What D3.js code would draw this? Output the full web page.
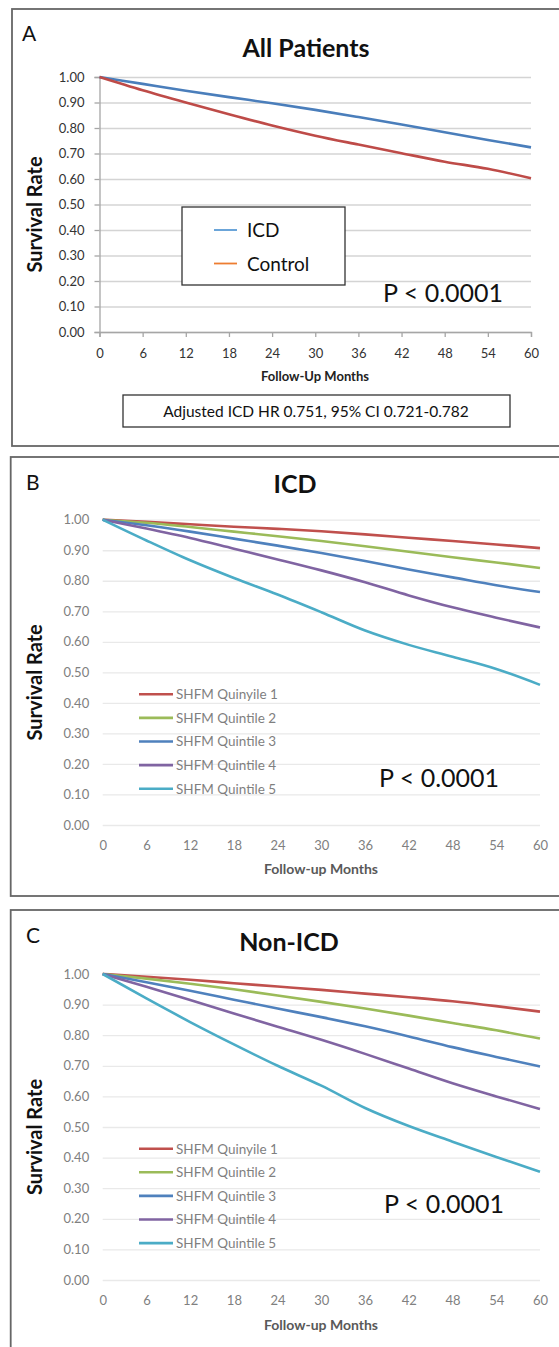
<!DOCTYPE html>
<html>
<head>
<meta charset="utf-8">
<script src="https://cdn.jsdelivr.net/npm/d3@7"></script>
<style>
  body { margin: 0; background: #fff; }
  svg text { font-family: Lato, "Open Sans", sans-serif; }
</style>
</head>
<body>
<div id="chart"></div>
<script>
// Survival curves at 6 month steps
var months = [0, 6, 12, 18, 24, 30, 36, 42, 48, 54, 60];
var yTicks = [0, 0.1, 0.2, 0.3, 0.4, 0.5, 0.6, 0.7, 0.8, 0.9, 1.0];

// A - All patients
var allIcd     = [1.00, 0.973, 0.946, 0.921, 0.897, 0.871, 0.843, 0.814, 0.783, 0.753, 0.724];
var allControl = [1.00, 0.948, 0.900, 0.854, 0.810, 0.770, 0.735, 0.701, 0.668, 0.640, 0.603];
var allNames = ["ICD", "Control"];

// B - ICD patients by SHFM quintile
var icdQ1 = [1.00, 0.993, 0.985, 0.977, 0.970, 0.962, 0.952, 0.941, 0.930, 0.919, 0.907];
var icdQ2 = [1.00, 0.990, 0.976, 0.961, 0.946, 0.930, 0.913, 0.895, 0.877, 0.860, 0.842];
var icdQ3 = [1.00, 0.982, 0.961, 0.938, 0.915, 0.891, 0.865, 0.837, 0.811, 0.785, 0.763];
var icdQ4 = [1.00, 0.971, 0.940, 0.905, 0.870, 0.834, 0.795, 0.752, 0.713, 0.679, 0.647];
var icdQ5 = [1.00, 0.932, 0.867, 0.809, 0.755, 0.697, 0.637, 0.590, 0.551, 0.511, 0.459];

// C - Non-ICD patients by SHFM quintile
var nonIcdQ1 = [1.00, 0.991, 0.981, 0.970, 0.959, 0.948, 0.936, 0.924, 0.911, 0.895, 0.877];
var nonIcdQ2 = [1.00, 0.985, 0.968, 0.950, 0.930, 0.909, 0.887, 0.864, 0.840, 0.816, 0.789];
var nonIcdQ3 = [1.00, 0.973, 0.945, 0.916, 0.887, 0.859, 0.829, 0.796, 0.761, 0.729, 0.698];
var nonIcdQ4 = [1.00, 0.958, 0.915, 0.871, 0.828, 0.785, 0.739, 0.691, 0.643, 0.600, 0.559];
var nonIcdQ5 = [1.00, 0.920, 0.843, 0.770, 0.700, 0.635, 0.562, 0.503, 0.452, 0.402, 0.354];

var quintileNames = ["SHFM Quinyile 1", "SHFM Quintile 2", "SHFM Quintile 3", "SHFM Quintile 4", "SHFM Quintile 5"];
var quintileColors = ["#c0504d", "#9bbb59", "#4f81bd", "#8064a2", "#4bacc6"];

var svg = d3.select("#chart").append("svg")
  .attr("width", 559)
  .attr("height", 1347);

var line = function(x, y) {
  return d3.line()
    .x((d, i) => x(months[i]))
    .y(d => y(d))
    .curve(d3.curveMonotoneX);
};

function drawPanel(p) {
  var g = svg.append("g");

  // panel frame (right side runs off the page like in the figure)
  g.append("rect")
    .attr("x", p.frame[0]).attr("y", p.frame[1])
    .attr("width", p.frame[2]).attr("height", p.frame[3])
    .attr("fill", "none")
    .attr("stroke", "#666")
    .attr("stroke-width", 1.8);

  var x = d3.scaleLinear().domain([0, 60]).range([p.left, p.right]);
  var y = d3.scaleLinear().domain([0, 1]).range([p.bottom, p.top]);

  // gridlines
  g.append("g")
    .attr("transform", `translate(${p.left},0)`)
    .call(d3.axisLeft(y).tickValues(yTicks).tickSize(-(p.right - p.left)).tickFormat(""))
    .call(a => a.select(".domain").remove())
    .selectAll("line")
    .attr("stroke", p.gridColor)
    .attr("stroke-width", p.gridWidth);

  // y labels
  var yAxis = g.append("g")
    .attr("transform", `translate(${p.left},0)`)
    .call(d3.axisLeft(y).tickValues(yTicks).tickFormat(d3.format(".2f"))
      .tickSize(p.axisLines ? 5 : 0).tickPadding(p.yPad));
  yAxis.selectAll("text")
    .attr("font-size", 13)
    .attr("fill", p.tickColor);

  // x labels
  var xAxis = g.append("g")
    .attr("transform", `translate(0,${p.bottom})`)
    .call(d3.axisBottom(x).tickValues(months).tickSize(p.axisLines ? 5 : 0).tickPadding(0));
  xAxis.selectAll("text")
    .attr("dy", null)
    .attr("y", p.xPad)
    .attr("font-size", 13)
    .attr("fill", p.tickColor);

  [yAxis, xAxis].forEach(function(a) {
    if (p.axisLines) {
      a.select(".domain").attr("stroke", "#a6a6a6").attr("stroke-width", 1.3);
      a.selectAll(".tick line").attr("stroke", "#a6a6a6").attr("stroke-width", 1.3);
    } else {
      a.select(".domain").remove();
      a.selectAll(".tick line").remove();
    }
  });

  // curves
  p.series.forEach(function(s, i) {
    g.append("path")
      .datum(s)
      .attr("fill", "none")
      .attr("stroke", p.colors[i])
      .attr("stroke-width", 2.6)
      .attr("d", line(x, y));
  });

  // panel letter and title
  g.append("text")
    .attr("x", p.letterX).attr("y", p.letterY)
    .attr("font-size", 21)
    .attr("fill", "#111")
    .text(p.letter);

  g.append("text")
    .attr("x", p.titleX).attr("y", p.titleY)
    .attr("text-anchor", "middle")
    .attr("font-size", 25)
    .attr("font-weight", "bold")
    .attr("fill", "#111")
    .text(p.title);

  // axis titles
  g.append("text")
    .attr("transform", `translate(42, ${(p.top + p.bottom) / 2 + 10}) rotate(-90)`)
    .attr("text-anchor", "middle")
    .attr("font-size", 20)
    .attr("font-weight", "bold")
    .attr("fill", "#111")
    .text("Survival Rate");

  g.append("text")
    .attr("x", p.xTitleX).attr("y", p.bottom + p.xTitleDy)
    .attr("text-anchor", "middle")
    .attr("font-size", p.xTitleSize)
    .attr("font-weight", "bold")
    .attr("fill", p.xTitleColor)
    .text(p.xTitle);

  // p value
  g.append("text")
    .attr("x", p.pX).attr("y", p.pY)
    .attr("font-size", 25)
    .attr("fill", "#111")
    .text("P < 0.0001");

  return g;
}

// ---- Panel A ----
var gA = drawPanel({
  frame: [12, 9, 570, 437],
  left: 99.5, right: 531, top: 77, bottom: 332,
  gridColor: "#d4d4d4", gridWidth: 1.6,
  axisLines: true, tickColor: "#333", yPad: 10, xPad: 26,
  series: [allIcd, allControl], colors: ["#4a7ebb", "#be4b48"],
  letter: "A", letterX: 22, letterY: 41,
  title: "All Patients", titleX: 306, titleY: 57,
  xTitle: "Follow-Up Months", xTitleX: 315, xTitleDy: 49, xTitleSize: 13, xTitleColor: "#222",
  pX: 383, pY: 302
});

// legend box of panel A
gA.append("rect")
  .attr("x", 182).attr("y", 207).attr("width", 163).attr("height", 78)
  .attr("fill", "#fff").attr("stroke", "#333").attr("stroke-width", 1.3);
var legendA = gA.selectAll(".legA")
  .data(allNames)
  .enter().append("g")
  .attr("transform", (d, i) => `translate(214, ${230 + i * 33.5})`);
legendA.append("line")
  .attr("x1", 0).attr("x2", 23)
  .attr("stroke", (d, i) => ["#5b9bd5", "#ed7d31"][i])
  .attr("stroke-width", 1.8);
legendA.append("text")
  .attr("x", 33).attr("y", 7)
  .attr("font-size", 19)
  .attr("fill", "#111")
  .text(d => d);

// hazard ratio box
gA.append("rect")
  .attr("x", 123).attr("y", 395).attr("width", 387).attr("height", 32)
  .attr("fill", "#fff").attr("stroke", "#333").attr("stroke-width", 1.3);
gA.append("text")
  .attr("x", 316).attr("y", 417)
  .attr("text-anchor", "middle")
  .attr("font-size", 15.5)
  .attr("fill", "#111")
  .text("Adjusted ICD HR 0.751, 95% CI 0.721-0.782");

// ---- Panels B and C ----
function quintileLegend(g, top) {
  var lg = g.selectAll(null)
    .data(quintileNames)
    .enter().append("g")
    .attr("transform", (d, i) => `translate(139, ${top + i * 23.6})`);
  lg.append("line")
    .attr("x1", 0).attr("x2", 34)
    .attr("stroke", (d, i) => quintileColors[i])
    .attr("stroke-width", 2.6);
  lg.append("text")
    .attr("x", 37).attr("y", 4.8)
    .attr("font-size", 13.5)
    .attr("fill", "#7f7f7f")
    .text(d => d);
}

var gB = drawPanel({
  frame: [10.7, 457, 570, 439],
  left: 102.7, right: 540, top: 519.7, bottom: 825,
  gridColor: "#e9e9e9", gridWidth: 1.3,
  axisLines: false, tickColor: "#808080", yPad: 13.5, xPad: 25,
  series: [icdQ1, icdQ2, icdQ3, icdQ4, icdQ5], colors: quintileColors,
  letter: "B", letterX: 26, letterY: 490,
  title: "ICD", titleX: 295, titleY: 493,
  xTitle: "Follow-up Months", xTitleX: 321, xTitleDy: 49, xTitleSize: 14, xTitleColor: "#595959",
  pX: 379, pY: 787
});
quintileLegend(gB, 694.3);

var gC = drawPanel({
  frame: [10.7, 910, 570, 460],
  left: 102.7, right: 540, top: 974, bottom: 1280,
  gridColor: "#e9e9e9", gridWidth: 1.3,
  axisLines: false, tickColor: "#808080", yPad: 13.5, xPad: 25,
  series: [nonIcdQ1, nonIcdQ2, nonIcdQ3, nonIcdQ4, nonIcdQ5], colors: quintileColors,
  letter: "C", letterX: 26, letterY: 943,
  title: "Non-ICD", titleX: 289, titleY: 951,
  xTitle: "Follow-up Months", xTitleX: 321, xTitleDy: 50, xTitleSize: 14, xTitleColor: "#595959",
  pX: 384, pY: 1213
});
quintileLegend(gC, 1148.7);
</script>
</body>
</html>
